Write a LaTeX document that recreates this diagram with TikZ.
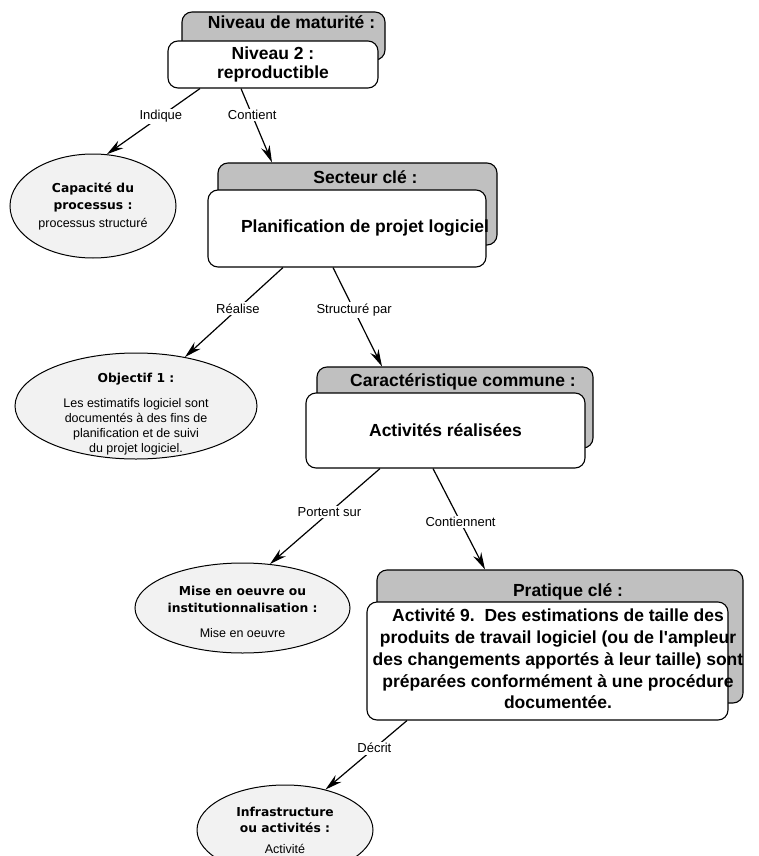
\documentclass[tikz,border=0pt]{standalone}
\usepackage{fontspec}
\setmainfont{Liberation Sans}
\newfontfamily\headfamily{DejaVu Sans}
\usetikzlibrary{arrows.meta, shapes.geometric, calc, backgrounds}
\definecolor{headgray}{HTML}{C0C0C0}
\definecolor{bubblefill}{HTML}{F2F2F2}
\newcommand{\cardfont}{\bfseries\fontsize{17.5}{21.7}\selectfont}
\newcommand{\bubblehead}{\headfamily\bfseries\fontsize{12.3}{15}\selectfont}

\begin{document}
\begin{tikzpicture}[
    x=1pt, y=-1pt,
    card/.style={rectangle, draw, line width=1.1pt, rounded corners=10pt, fill=white, font=\cardfont, align=center},
    cardback/.style={rectangle, draw, line width=1.1pt, rounded corners=10pt, fill=headgray, font=\cardfont, anchor=north, text height=12pt, execute at begin node={\hspace*{16pt}}},
    bubble/.style={ellipse, draw, line width=1pt, fill=bubblefill, inner sep=0pt, align=center, font=\fontsize{12.5}{15}\selectfont},
    arrow/.style={-{Stealth[length=17pt, width=9pt]}, line width=1.2pt},
    rellabel/.style={font=\fontsize{13}{14}\selectfont, fill=white, inner sep=1.5pt}
]
    \useasboundingbox (0,0) rectangle (758,856);

    % Cards (front)
    \node[card, minimum width=210pt, minimum height=47pt] (niveau) at (273,64.5) {Niveau 2 :\\[-3.5pt]reproductible};
    \node[card, minimum width=278pt, minimum height=77pt, inner xsep=0pt] (secteur) at (347,228.5) {\makebox[278pt][l]{\hspace*{33pt}Planification de projet logiciel}};
    \node[card, minimum width=279pt, minimum height=75pt] (caract) at (445.5,430.5) {Activités réalisées};
    \node[card, minimum width=361pt, minimum height=118pt, inner xsep=0pt] (pratique) at (547.5,661) {\makebox[361pt]{\hspace*{21pt}\begin{tabular}{@{}c@{}}Activité 9.\ \ Des estimations de taille des\\ produits de travail logiciel (ou de l\textquotesingle ampleur\\ des changements apportés à leur taille) sont\\ préparées conformément à une procédure\\ documentée.\end{tabular}}};

    % Cards (grey headers behind)
    \begin{scope}[on background layer]
        \node[cardback, minimum width=203pt, inner ysep=5pt, text depth=26pt] (niveau-hd) at ($(niveau.north)+(10.5,-29)$) {Niveau de maturité :};
        \node[cardback, minimum width=279pt, inner ysep=8pt, text depth=54pt] (secteur-hd) at ($(secteur.north)+(10.5,-27)$) {Secteur clé :};
        \node[cardback, minimum width=276pt, inner ysep=7pt, text depth=55pt] (caract-hd) at ($(caract.north)+(9.5,-26)$) {Caractéristique commune :};
        \node[cardback, minimum width=366pt, inner ysep=14pt, text depth=93pt] (pratique-hd) at ($(pratique.north)+(12.5,-32)$) {Pratique clé :};
    \end{scope}

    % Ellipses
    \node[bubble, minimum width=166pt, minimum height=104pt] (capacite) at (93,206) {{\bubblehead Capacité du}\\[2pt]{\bubblehead processus :}\\[3pt]processus structuré};
    \node[bubble, minimum width=242pt, minimum height=106pt, inner ysep=-16pt] (objectif) at (136,406) {{\bubblehead\rule{0pt}{26pt}Objectif 1 :}\\[10pt]Les estimatifs logiciel sont\\documentés à des fins de\\planification et de suivi\\du projet logiciel.};
    \node[bubble, minimum width=215pt, minimum height=90pt] (mise) at (242.5,608) {{\bubblehead\rule{0pt}{18pt}Mise en oeuvre ou}\\[2pt]{\bubblehead institutionnalisation :}\\[10pt]Mise en oeuvre};
    \node[bubble, minimum width=176pt, minimum height=90pt] (infra) at (285,830) {{\bubblehead Infrastructure}\\[1pt]{\bubblehead ou activités :}\\[6pt]Activité};

    % Relations
    \draw[arrow] ([xshift=-73pt]niveau.south) -- node[rellabel, pos=.42] {Indique} (capacite.75);
    \draw[arrow] ([xshift=-32pt]niveau.south) -- node[rellabel, pos=.36] {Contient} ([xshift=-85.5pt]secteur-hd.north);
    \draw[arrow] ([xshift=-64pt]secteur.south) -- node[rellabel, pos=.46] {Réalise} (objectif.45);
    \draw[arrow] ([xshift=-14pt]secteur.south) -- node[rellabel, pos=.43] {Structuré par} ([xshift=-73pt]caract-hd.north);
    \draw[arrow] ([xshift=-65.5pt]caract.south) -- node[rellabel, pos=.46] {Portent sur} (mise.58);
    \draw[arrow] ([xshift=-12.5pt]caract.south) -- node[rellabel, pos=.53] {Contiennent} ([xshift=-75pt]pratique-hd.north);
    \draw[arrow] ([xshift=-140.5pt]pratique.south) -- node[rellabel, pos=.4] {Décrit} (infra.45);
\end{tikzpicture}
\end{document}
